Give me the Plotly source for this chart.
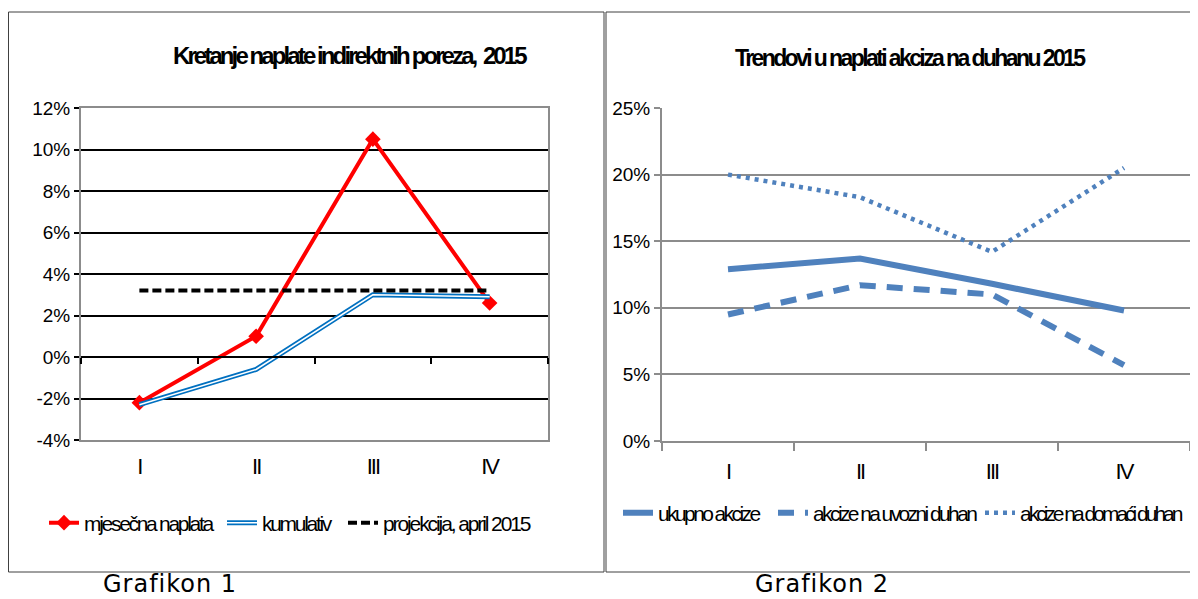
import plotly.graph_objects as go

# data
kvartali = ["I", "II", "III", "IV"]

mjesecna = [-0.022, 0.010, 0.105, 0.026]
kumulativ = [-0.023, -0.006, 0.030, 0.029]
projekcija = [0.032, 0.032, 0.032, 0.032]

ukupno = [0.129, 0.137, 0.118, 0.098]
uvozni = [0.095, 0.117, 0.110, 0.057]
domaci = [0.200, 0.183, 0.142, 0.205]

# y tick labels (Excel shows a plain hyphen for negatives)
y1_ticks = [-0.04, -0.02, 0.0, 0.02, 0.04, 0.06, 0.08, 0.10, 0.12]
y1_labels = ["-4%", "-2%", "0%", "2%", "4%", "6%", "8%", "10%", "12%"]
y2_ticks = [0.0, 0.05, 0.10, 0.15, 0.20, 0.25]
y2_labels = ["0%", "5%", "10%", "15%", "20%", "25%"]

# the page body keeps its 8px margin, so the figure is 8px smaller and every
# position below is given in window pixels and shifted back by 8
OFF = 8
W, H = 1198 - OFF, 599 - OFF
FONT = "Liberation Sans, Arial, sans-serif"
RED = "#ff0000"
BLUE = "#0070c0"
XL = "#4f81bd"
GRAY = "#8c8c8c"


def px(x):
    return (x - OFF) / W


def py(y):
    return (H - (y - OFF)) / H


def tight(text, ls):
    # Excel-like squeezed lettering
    return '<span style="letter-spacing:%.1fpx">%s</span>' % (ls, text)


def leg(x, y, size=21):
    return dict(orientation="h", x=px(x), y=py(y), xanchor="left", yanchor="middle",
                font=dict(family=FONT, size=size, color="black"), bgcolor="rgba(0,0,0,0)",
                itemwidth=30)


fig = go.Figure()

# Grafikon 1
fig.add_trace(go.Scatter(x=kvartali, y=mjesecna, name=tight("mjesečna naplata", -2.3), mode="lines+markers",
                         line=dict(color=RED, width=4), marker=dict(symbol="diamond", size=12, color=RED),
                         xaxis="x", yaxis="y", legend="legend"))
fig.add_trace(go.Scatter(x=kvartali, y=kumulativ, name=tight("kumulativ", -2.3), mode="lines",
                         line=dict(color=BLUE, width=5), xaxis="x", yaxis="y", legend="legend2"))
fig.add_trace(go.Scatter(x=kvartali, y=kumulativ, name=" ", mode="lines",
                         line=dict(color="white", width=1.5), xaxis="x", yaxis="y", legend="legend7",
                         hoverinfo="skip"))
fig.add_trace(go.Scatter(x=kvartali, y=projekcija, name=tight("projekcija, april 2015", -2.1), mode="lines",
                         line=dict(color="black", width=4, dash="9px,4px"), xaxis="x3", yaxis="y",
                         legend="legend3"))

# Grafikon 2
fig.add_trace(go.Scatter(x=kvartali, y=ukupno, name=tight("ukupno akcize", -2.6), mode="lines",
                         line=dict(color=XL, width=6), xaxis="x2", yaxis="y2", legend="legend4"))
fig.add_trace(go.Scatter(x=kvartali, y=uvozni, name=tight("akcize na uvozni duhan", -2.6), mode="lines",
                         line=dict(color=XL, width=6, dash="16px,11px"), xaxis="x2", yaxis="y2",
                         legend="legend5"))
fig.add_trace(go.Scatter(x=kvartali, y=domaci, name=tight("akcize na domaći duhan", -3.0), mode="lines",
                         line=dict(color=XL, width=4.5, dash="4px,5px"), xaxis="x2", yaxis="y2",
                         legend="legend6"))

tick_font = dict(family=FONT, size=19, color="black")
xtick_font = dict(family=FONT, size=22, color="black")
xtick_text = [tight(k, -2) for k in kvartali]

fig.update_layout(
    width=W, height=H, autosize=False,
    margin=dict(l=0, r=0, t=0, b=0, autoexpand=False),
    paper_bgcolor="white", plot_bgcolor="white",
    font=dict(family=FONT, color="black"),
    xaxis=dict(domain=[px(81), px(548)], type="category", range=[-0.5, 3.5], anchor="y",
               showline=True, linecolor=GRAY, linewidth=2, mirror=True, ticks="",
               tickvals=kvartali, ticktext=xtick_text,
               showgrid=False, tickfont=xtick_font, ticklabelstandoff=6),
    xaxis3=dict(overlaying="x", type="category", range=[-0.5, 3.5], anchor="free",
                position=py(357), showline=True, linecolor="black", linewidth=2,
                ticks="outside", tickson="boundaries", ticklen=6, tickwidth=2, tickcolor="black",
                showticklabels=False, showgrid=False),
    yaxis=dict(domain=[py(440), py(108)], range=[-0.04, 0.12], tickvals=y1_ticks, ticktext=y1_labels,
               anchor="x", gridcolor="black", gridwidth=1.5, zeroline=False,
               showline=True, linecolor=GRAY, linewidth=2, mirror=True,
               ticks="outside", ticklen=5, tickcolor="black", tickwidth=1.5, tickfont=tick_font),
    xaxis2=dict(domain=[px(662), px(1190)], type="category", range=[-0.5, 3.5], anchor="y2",
                showline=True, linecolor=GRAY, linewidth=2, ticks="outside", tickson="boundaries",
                ticklen=8, tickwidth=2, tickcolor=GRAY, showgrid=False,
                tickvals=kvartali, ticktext=xtick_text,
                tickfont=xtick_font, ticklabelstandoff=10),
    yaxis2=dict(domain=[py(441), py(108)], range=[0, 0.25], tickvals=y2_ticks, ticktext=y2_labels,
                anchor="x2", gridcolor=GRAY, gridwidth=2, zeroline=False,
                showline=True, linecolor=GRAY, linewidth=2, ticks="outside", ticklen=6,
                tickcolor=GRAY, tickwidth=2, tickfont=tick_font),
    legend=leg(44, 523),
    legend2=leg(222, 523),
    legend7=leg(222, 523),
    legend3=leg(343, 523),
    legend4=leg(618, 513),
    legend5=leg(773, 513),
    legend6=leg(980, 513),
    showlegend=True,
)

# okviri oko grafikona
fig.add_shape(type="rect", xref="paper", yref="paper", x0=px(8.5), x1=px(604), y0=py(572), y1=py(12),
              line=dict(color="#404040", width=1))
fig.add_shape(type="rect", xref="paper", yref="paper", x0=px(606), x1=px(1200), y0=py(572), y1=py(12),
              line=dict(color="#404040", width=1))

fig.add_annotation(text="<b>" + tight("Kretanje naplate indirektnih poreza,  2015", -2.9) + "</b>",
                   xref="paper", yref="paper", x=px(171), y=py(55), xanchor="left", yanchor="middle",
                   align="left", showarrow=False, font=dict(family=FONT, size=24))
fig.add_annotation(text="<b>" + tight("Trendovi u naplati akciza na duhanu 2015", -2.6) + "</b>",
                   xref="paper", yref="paper", x=px(733), y=py(58), xanchor="left", yanchor="middle",
                   align="left", showarrow=False, font=dict(family=FONT, size=23))

cap_font = dict(family="DejaVu Sans, Verdana, sans-serif", size=24, color="black")
fig.add_annotation(text=tight("Grafikon 1", 1), xref="paper", yref="paper", x=px(101), y=py(584),
                   xanchor="left", yanchor="middle", align="left", showarrow=False, font=cap_font)
fig.add_annotation(text=tight("Grafikon 2", 1), xref="paper", yref="paper", x=px(753), y=py(584),
                   xanchor="left", yanchor="middle", align="left", showarrow=False, font=cap_font)

fig.write_html("out.html")
